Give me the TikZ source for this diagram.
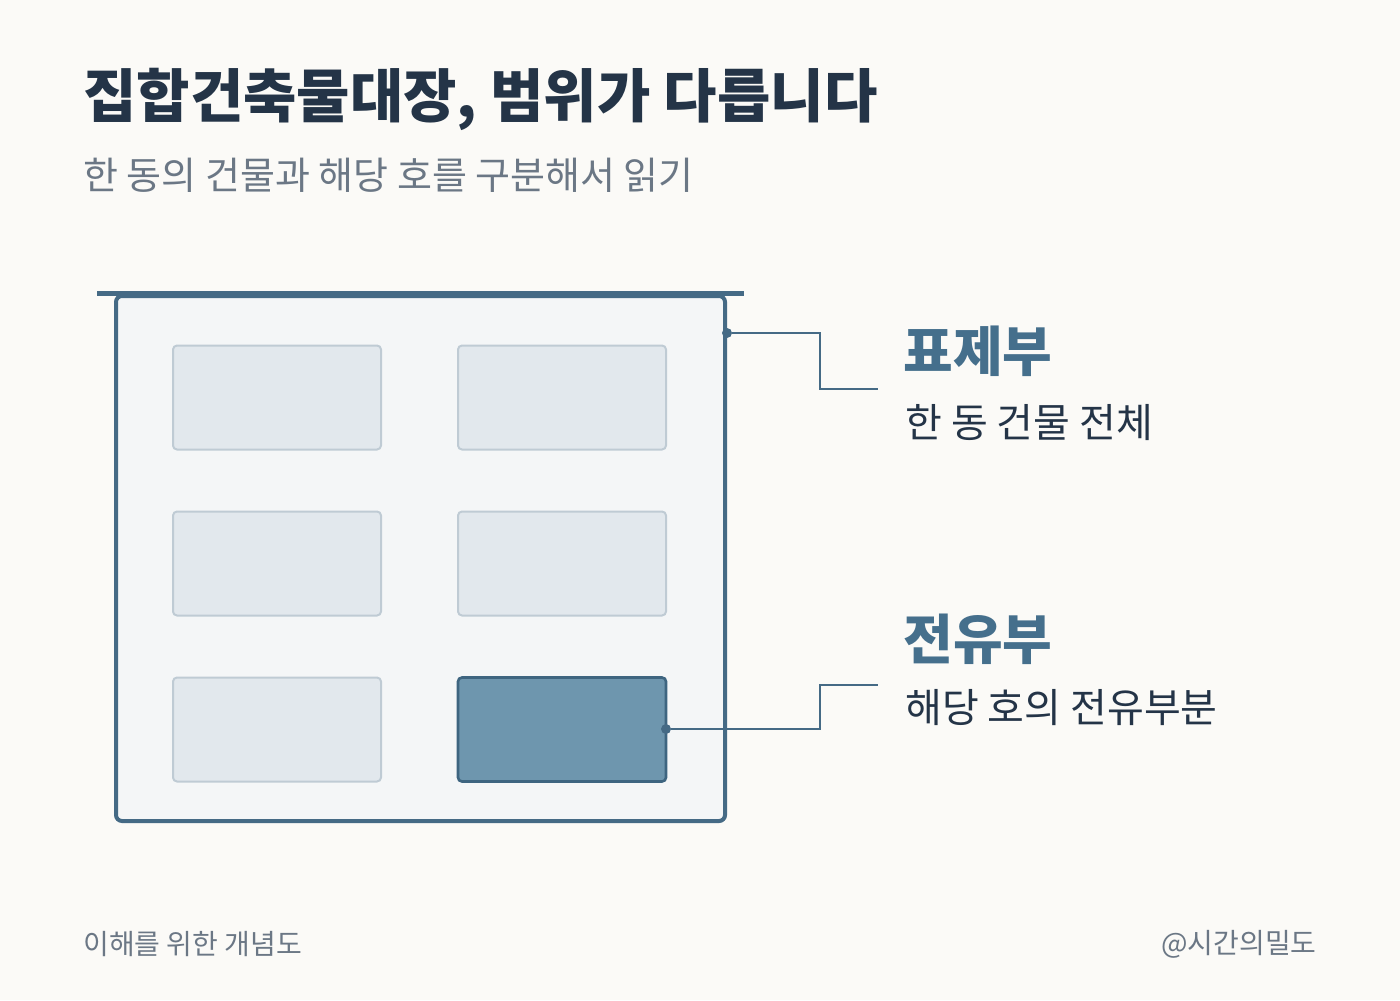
\documentclass[tikz,border=0pt]{standalone}
\usepackage{fontspec}
\setmainfont{Noto Sans CJK KR}
\newfontfamily\krb{Noto Sans CJK KR}[BoldFont=* Bold]
\definecolor{bg}{HTML}{FBFAF7}
\definecolor{navy}{HTML}{243447}
\definecolor{grayt}{HTML}{6B7785}
\definecolor{steel}{HTML}{456A85}
\definecolor{lab}{HTML}{456F8C}
\definecolor{bfill}{HTML}{F4F6F7}
\definecolor{wfill}{HTML}{E2E8ED}
\definecolor{wline}{HTML}{BFCBD4}
\definecolor{hfill}{HTML}{6E96AE}
\definecolor{hline}{HTML}{3E6580}
\begin{document}
\begin{tikzpicture}[x=0.5pt,y=-0.5pt,
  win/.style={draw=wline,fill=wfill,line width=1pt,rounded corners=2pt},
  conn/.style={draw=steel,line width=1.2pt},
  dot/.style={circle,fill=steel,inner sep=0pt,minimum size=5pt}]
\fill[bg] (0,0) rectangle (1400,1000);
\useasboundingbox (0,0) rectangle (1400,1000);
\node[anchor=base west,inner sep=0,text=navy,font=\fontsize{29}{34}\selectfont\bfseries] (title) at (83,118) {집합건축물대장, 범위가 다릅니다};
\node[anchor=base west,inner sep=0,text=grayt,font=\fontsize{19}{22}\selectfont] (sub) at (83,190) {한 동의 건물과 해당 호를 구분해서 읽기};
\draw[steel,line width=2.5pt] (97,293) -- (744,293);
\draw[steel,fill=bfill,line width=2pt,rounded corners=3pt] (116,296) rectangle (725,821);
\node[win,minimum width=104pt,minimum height=52pt] (w1) at (277,397.5) {};
\node[win,minimum width=104pt,minimum height=52pt] (w2) at (562,397.5) {};
\node[win,minimum width=104pt,minimum height=52pt] (w3) at (277,563.5) {};
\node[win,minimum width=104pt,minimum height=52pt] (w4) at (562,563.5) {};
\node[win,minimum width=104pt,minimum height=52pt] (w5) at (277,729.5) {};
\node[draw=hline,fill=hfill,line width=1.3pt,rounded corners=2pt,minimum width=104pt,minimum height=52pt] (w6) at (562,729.5) {};
\node[dot] (d1) at (727,333) {};
\node[dot] (d2) at (666,729) {};
\coordinate (e1) at (878,389);
\coordinate (e2) at (878,685);
\draw[conn] (d1) -- (820,333) -- (820,389) -- (e1);
\draw[conn] (d2) -- (820,729) -- (820,685) -- (e2);
\node[anchor=base west,inner sep=0,text=lab,font=\fontsize{27}{30}\selectfont\bfseries] (l1) at (903,371) {표제부};
\node[anchor=base west,inner sep=0,text=navy,font=\fontsize{20}{24}\selectfont] (s1) at (905,437) {한 동 건물 전체};
\node[anchor=base west,inner sep=0,text=lab,font=\fontsize{27}{30}\selectfont\bfseries] (l2) at (903,659) {전유부};
\node[anchor=base west,inner sep=0,text=navy,font=\fontsize{20}{24}\selectfont] (s2) at (905,722) {해당 호의 전유부분};
\node[anchor=base west,inner sep=0,text=grayt,font=\fontsize{14}{16}\selectfont] (f1) at (83,954) {이해를 위한 개념도};
\node[anchor=base east,inner sep=0,text=grayt,font=\fontsize{14}{16}\selectfont] (f2) at (1317,953) {@시간의밀도};
\end{tikzpicture}
\end{document}
